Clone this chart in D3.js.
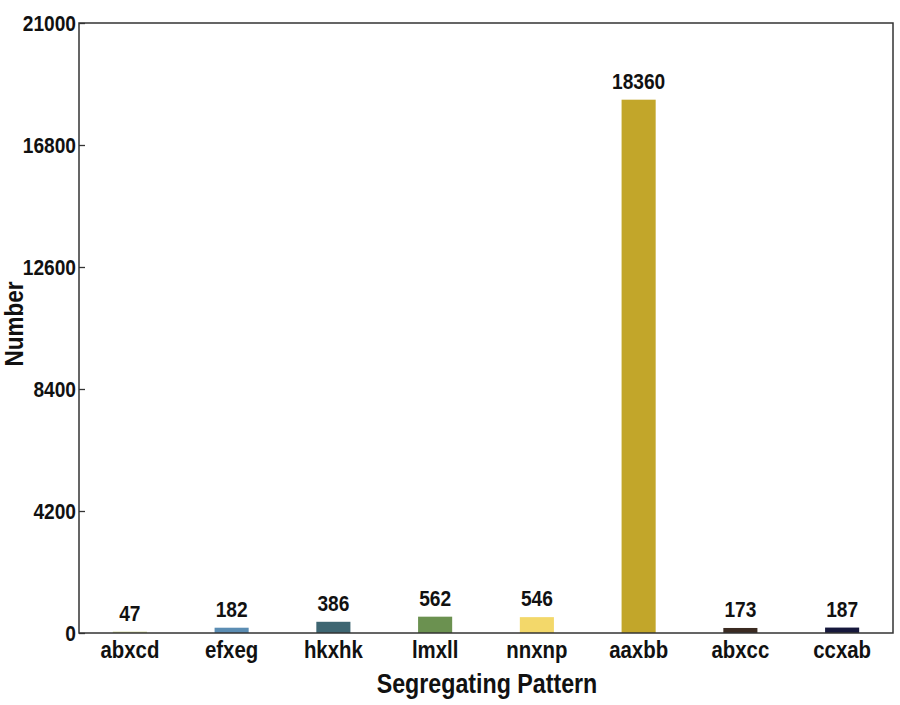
<!DOCTYPE html>
<html><head><meta charset="utf-8">
<script src="https://cdn.jsdelivr.net/npm/d3@7/dist/d3.min.js"></script>
<style>body{margin:0;background:#fff}svg{display:block}text{font-family:"Liberation Sans",Arial,sans-serif;font-weight:bold;fill:#111}</style>
</head><body><svg id="c" width="900" height="705"></svg>
<script>
const categories = ["abxcd","efxeg","hkxhk","lmxll","nnxnp","aaxbb","abxcc","ccxab"];
const values = [47,182,386,562,546,18360,173,187];
const colors = ["#cdd494","#5b8db3","#3e6672","#6b9150","#f3d86a","#c2a62a","#3b2b22","#16183c"];
const yTicks = [0,4200,8400,12600,16800,21000];

const FONT = '"Liberation Sans",Arial,sans-serif';
function condense(sel, k) {
  sel.each(function() {
    const w = this.getComputedTextLength();
    d3.select(this).attr("textLength", w * k).attr("lengthAdjust", "spacingAndGlyphs");
  });
}

const svg = d3.select("#c");
const m = {l:79, t:23, r:893, b:633};
const x = d3.scaleBand().domain(categories).range([m.l, m.r]).paddingInner(0.665).paddingOuter(0.3325);
const y = d3.scaleLinear().domain([0,21000]).range([m.b, m.t]);

// bars
svg.selectAll("rect.bar").data(categories).enter().append("rect")
  .attr("class","bar")
  .attr("x", d => x(d)).attr("width", x.bandwidth())
  .attr("y", (d,i) => y(values[i])).attr("height", (d,i) => y(0)-y(values[i]))
  .attr("fill", (d,i) => colors[i]);

// value labels
const vals = svg.selectAll("text.val").data(categories).enter().append("text")
  .attr("class","val")
  .attr("x", d => x(d)+x.bandwidth()/2)
  .attr("y", (d,i) => y(values[i]) - 11)
  .attr("text-anchor","middle").attr("font-size", 22)
  .text((d,i) => values[i]);
condense(vals, 0.87);

// left axis
const ya = svg.append("g").attr("transform",`translate(${m.l},0)`)
  .call(d3.axisLeft(y).tickValues(yTicks).tickSize(-6).tickPadding(3).tickFormat(d3.format("d")));
ya.select(".domain").remove();
ya.selectAll(".tick line").attr("stroke","#333").attr("stroke-width",1.3);
ya.selectAll(".tick text").attr("font-size",22).attr("fill","#111")
  .style("font-family",FONT).style("font-weight","bold");
condense(ya.selectAll(".tick text"), 0.87);

// bottom axis
const xa = svg.append("g").attr("transform",`translate(0,${m.b})`)
  .call(d3.axisBottom(x).tickSize(0).tickPadding(8));
xa.select(".domain").remove();
xa.selectAll(".tick text").attr("font-size",24).attr("fill","#111")
  .style("font-family",FONT).style("font-weight","bold");
condense(xa.selectAll(".tick text"), 0.85);

// frame
svg.append("rect").attr("x",m.l).attr("y",m.t).attr("width",m.r-m.l).attr("height",m.b-m.t)
  .attr("fill","none").attr("stroke","#333").attr("stroke-width",1.5);

// axis titles
const xt = svg.append("text").attr("x",487).attr("y",693).attr("text-anchor","middle")
  .attr("font-size",27).text("Segregating Pattern");
condense(xt, 0.86);
const yt = svg.append("text").attr("transform",`translate(23,324) rotate(-90)`)
  .attr("text-anchor","middle").attr("font-size",25).text("Number");
condense(yt, 0.9);
</script></body></html>
